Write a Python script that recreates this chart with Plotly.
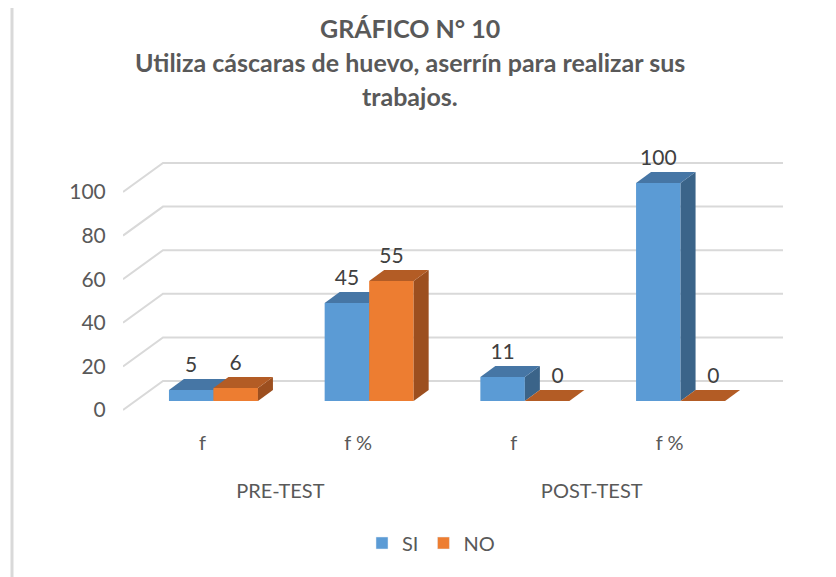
import plotly.graph_objects as go

# ---- data ----
groups = ["PRE-TEST", "POST-TEST"]
categories = ["f", "f %", "f", "f %"]
series_names = ["SI", "NO"]
si_values = [5, 45, 11, 100]
no_values = [6, 55, 0, 0]
y_ticks = [0, 20, 40, 60, 80, 100]

title_lines = ["GRÁFICO N° 10",
               "Utiliza cáscaras de huevo, aserrín para realizar sus",
               "trabajos."]

# ---- styling / geometry ----
FONT = "Lato"
TXT = "#595959"
front_cols = ["#5B9BD5", "#ED7D31"]
top_cols = ["#4676A5", "#B35C25"]
side_cols = ["#3B6489", "#9C4F1F"]

OFF = 8  # default page body margin
W, H = 836 - OFF, 577 - OFF
L, T = 123 - OFF, 150 - OFF
R = W - (783 - OFF)
B = H - (412 - OFF)
plot_w = W - L - R
plot_h = H - T - B
px_per_unit_x = 155.7
px_per_unit_y = 2.18

x0r = -0.581
x_range = [x0r, x0r + plot_w / px_per_unit_x]
y_bottom = -11 / px_per_unit_y
y_range = [y_bottom, y_bottom + plot_h / px_per_unit_y]

bar_w = 44.5 / px_per_unit_x
dx = 15 / px_per_unit_x
dy = 11 / px_per_unit_y
front_off = -9 / px_per_unit_y       # front edge of floor relative to bar base
back_off = 20 / px_per_unit_y        # back wall relative to bar base
back_dx = 40 / px_per_unit_x


def px_x(p):
    return (p - OFF - L) / plot_w


def px_y(p):
    return (H - B - (p - OFF)) / plot_h


fig = go.Figure()

# gridlines (front-left diagonal + back wall)
for v in y_ticks:
    fig.add_trace(go.Scatter(
        x=[x_range[0], x_range[0] + back_dx, x_range[1]],
        y=[v + front_off, v + back_off, v + back_off],
        mode="lines", line=dict(color="#D9D9D9", width=2),
        hoverinfo="skip", showlegend=False))

# 3D bars
for i, cat in enumerate(categories):
    for s, vals in enumerate([si_values, no_values]):
        v = vals[i]
        xl = i - bar_w if s == 0 else i
        xr = xl + bar_w
        if v > 0:
            # front face
            fig.add_trace(go.Scatter(
                x=[xl, xr, xr, xl, xl], y=[0, 0, v, v, 0],
                fill="toself", fillcolor=front_cols[s], mode="lines",
                line=dict(width=0, color=front_cols[s]),
                hoverinfo="skip", showlegend=False))
            # side face
            fig.add_trace(go.Scatter(
                x=[xr, xr + dx, xr + dx, xr, xr], y=[0, dy, v + dy, v, 0],
                fill="toself", fillcolor=side_cols[s], mode="lines",
                line=dict(width=0, color=side_cols[s]),
                hoverinfo="skip", showlegend=False))
        # top face
        fig.add_trace(go.Scatter(
            x=[xl, xr, xr + dx, xl + dx, xl], y=[v, v, v + dy, v + dy, v],
            fill="toself", fillcolor=top_cols[s], mode="lines",
            line=dict(width=0, color=top_cols[s]),
            hoverinfo="skip", showlegend=False))

# data labels
label_lift = 2 / px_per_unit_y
for s, vals in enumerate([si_values, no_values]):
    xs = []
    ys = []
    for i, v in enumerate(vals):
        xl = i - bar_w if s == 0 else i
        xc = xl + bar_w / 2 + (dx * 0.7 if v == 0 else 0)
        xs.append(xc)
        ys.append(v + dy + label_lift)
    fig.add_trace(go.Scatter(
        x=xs, y=ys, mode="text", text=[str(v) for v in vals],
        textposition="top center",
        textfont=dict(family=FONT, size=21, color="#404040"),
        hoverinfo="skip", showlegend=False))

# legend entries
for s, name in enumerate(series_names):
    fig.add_trace(go.Bar(x=[None], y=[None], name=name,
                         marker_color=front_cols[s]))

# invisible traces to activate extra axes
fig.add_trace(go.Scatter(x=[None], y=[None], xaxis="x2", yaxis="y2",
                         showlegend=False, hoverinfo="skip"))
fig.add_trace(go.Scatter(x=[None], y=[None], xaxis="x3", yaxis="y2",
                         showlegend=False, hoverinfo="skip"))

shift_x = 11 / px_per_unit_x
front_shift_y = -front_off

fig.update_layout(
    width=W, height=H,
    margin=dict(l=L, r=R, t=T, b=B),
    paper_bgcolor="white", plot_bgcolor="white",
    font=dict(family=FONT, color=TXT, size=20),
    xaxis=dict(range=x_range, showgrid=False, zeroline=False,
               showticklabels=False, showline=False),
    yaxis=dict(range=y_range, showgrid=False, zeroline=False,
               showticklabels=False, showline=False),
    xaxis2=dict(overlaying="x", side="bottom",
                range=[x_range[0] + shift_x, x_range[1] + shift_x],
                tickmode="array", tickvals=list(range(len(categories))),
                ticktext=categories, ticks="outside", ticklen=13,
                tickcolor="rgba(0,0,0,0)", showgrid=False, zeroline=False,
                showline=False, tickfont=dict(family=FONT, size=20, color=TXT)),
    xaxis3=dict(overlaying="x", side="bottom",
                range=[x_range[0] + shift_x, x_range[1] + shift_x],
                tickmode="array", tickvals=[0.5, 2.5],
                ticktext=groups, ticks="outside", ticklen=61,
                tickcolor="rgba(0,0,0,0)", showgrid=False, zeroline=False,
                showline=False, tickfont=dict(family=FONT, size=20, color=TXT)),
    yaxis2=dict(overlaying="y", side="left",
                range=[y_range[0] + front_shift_y, y_range[1] + front_shift_y],
                tickmode="array", tickvals=y_ticks,
                ticks="outside", ticklen=12, tickcolor="rgba(0,0,0,0)",
                showgrid=False, zeroline=False, showline=False,
                tickfont=dict(family=FONT, size=21, color=TXT)),
    legend=dict(orientation="h", x=px_x(431), xanchor="center",
                y=px_y(543), yanchor="middle",
                font=dict(family=FONT, size=20, color=TXT),
                itemwidth=30, traceorder="normal"),
    showlegend=True,
)

title_y_px = [28, 62, 96]
for line, ypx in zip(title_lines, title_y_px):
    fig.add_annotation(text="<b>" + line + "</b>", xref="paper", yref="paper",
                       x=px_x(410), y=px_y(ypx),
                       xanchor="center", yanchor="middle", showarrow=False,
                       font=dict(family=FONT, size=25, color=TXT))

# chart frame
fig.add_shape(type="rect", xref="paper", yref="paper",
              x0=px_x(12), x1=px_x(850), y0=px_y(600), y1=px_y(6),
              line=dict(color="#D9D9D9", width=3), fillcolor="rgba(0,0,0,0)",
              layer="below")

fig.write_html("out.html")
